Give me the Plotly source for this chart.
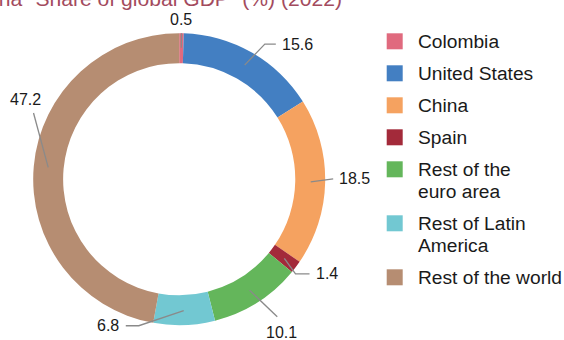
import math
import plotly.graph_objects as go

# ---------------- data ----------------
labels = ["Colombia", "United States", "China", "Spain",
          "Rest of the euro area", "Rest of Latin America", "Rest of the world"]
values = [0.5, 15.6, 18.5, 1.4, 10.1, 6.8, 47.2]
legend_lines = [["Colombia"], ["United States"], ["China"], ["Spain"],
                ["Rest of the", "euro area"], ["Rest of Latin", "America"],
                ["Rest of the world"]]
title_text = 'China "Share of global GDP" (%) (2022)'

# ---------------- style ----------------
colors = ["#E06A7E", "#437FC2", "#F5A260", "#A32A3A", "#64B65B", "#72C8D2", "#B68D72"]
FONT = "Liberation Sans, Arial, Helvetica, sans-serif"
W, H = 564, 340
CX, CY, R_OUT, HOLE = 179.2, 179.2, 146.0, 0.795
R_IN = R_OUT * HOLE
R_MID = (R_IN + R_OUT) / 2 + 0.5

# label layout (per slice): angular nudge (deg), end radius, side, tail length, text x nudge
label_shift = [0.0, 2.5, -1.3, 2.2, -3.1, 17.4, 19.3]
label_r = [146, 160, 154, 150, 169, 152, 160]
label_side = ["top", "right", "right", "right", "bottom", "left", "top"]
label_tail = [0, 11, 0, 14, 0, 13, 0]
label_dx = [0, 0, 0, 0, 4, 0, -8]
LINE_COLOR = "#8a8a8a"
TEXT_COLOR = "#1a1a1a"


def px(x):
    return x / W


def py(y):
    return 1 - y / H


def polar(r, deg):
    a = math.radians(deg)
    return CX + r * math.sin(a), CY - r * math.cos(a)


fig = go.Figure()
fig.add_trace(go.Pie(
    labels=labels, values=values, sort=False, direction="clockwise", rotation=0,
    hole=HOLE, textinfo="none", showlegend=False,
    marker=dict(colors=colors, line=dict(width=0)),
    domain=dict(x=[px(CX - R_OUT), px(CX + R_OUT)], y=[py(CY + R_OUT), py(CY - R_OUT)]),
))

shapes = []
annotations = []

# leader lines + value labels
total = sum(values)
cum = 0.0
for i, v in enumerate(values):
    mid = (cum + v / 2) / total * 360.0
    cum += v
    x0, y0 = polar(R_MID, mid)
    x1, y1 = polar(label_r[i], mid + label_shift[i])
    side = label_side[i]
    path = f"M{px(x0)},{py(y0)} L{px(x1)},{py(y1)}"
    if side == "right":
        x2 = x1 + label_tail[i]
        path += f" L{px(x2)},{py(y1)}"
        tx, ty, xa, ya = x2 + 5, y1, "left", "middle"
    elif side == "left":
        x2 = x1 - label_tail[i]
        path += f" L{px(x2)},{py(y1)}"
        tx, ty, xa, ya = x2 - 6, y1, "right", "middle"
    elif side == "top":
        tx, ty, xa, ya = x1, y1 - 4, "center", "bottom"
    else:
        tx, ty, xa, ya = x1, y1 + 6, "center", "top"
    tx += label_dx[i]
    shapes.append(dict(type="path", path=path, xref="paper", yref="paper",
                       line=dict(color=LINE_COLOR, width=1.3)))
    annotations.append(dict(text=f"{v:.1f}", x=px(tx), y=py(ty), xref="paper", yref="paper",
                            xanchor=xa, yanchor=ya, showarrow=False, borderpad=0,
                            font=dict(family=FONT, size=16, color=TEXT_COLOR)))

# manual legend
LEG_X_SQ, SQ, LEG_X_TXT = 386.7, 16, 416.7
y = 41.3
for i, lines in enumerate(legend_lines):
    shapes.append(dict(type="rect", xref="paper", yref="paper",
                       x0=px(LEG_X_SQ), x1=px(LEG_X_SQ + SQ),
                       y0=py(y - SQ / 2), y1=py(y + SQ / 2),
                       fillcolor=colors[i], line=dict(width=0)))
    for k, t in enumerate(lines):
        annotations.append(dict(text=t, x=px(LEG_X_TXT), y=py(y + 21.5 * k + 0.5),
                                xref="paper", yref="paper", xanchor="left", yanchor="middle",
                                showarrow=False, borderpad=0,
                                font=dict(family=FONT, size=19.2, color=TEXT_COLOR)))
    y += 32 + 22 * (len(lines) - 1)

# title (mostly clipped at the top, as in the reference)
annotations.append(dict(text=title_text, x=px(343), y=py(11.3), xref="paper", yref="paper",
                        xanchor="right", yanchor="bottom", showarrow=False, borderpad=0,
                        font=dict(family=FONT, size=21.1, color="#A34B5E")))

fig.update_layout(width=W, height=H, margin=dict(l=0, r=0, t=0, b=0),
                  paper_bgcolor="white", plot_bgcolor="white",
                  shapes=shapes, annotations=annotations, showlegend=False)
fig.write_html("out.html")
